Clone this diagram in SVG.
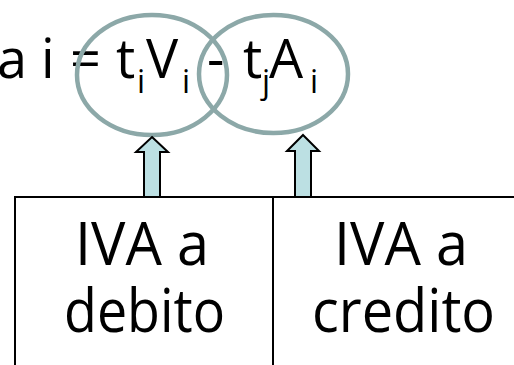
<svg xmlns="http://www.w3.org/2000/svg" width="514" height="365" viewBox="0 0 514 365">
  <style>
    .txt { font-family: "Open Sans", "Noto Sans", sans-serif; fill: #000; }
    .ring { fill: none; stroke: #8CA8A8; stroke-width: 4.5; }
    .up { fill: #BCE0E3; stroke: #000; stroke-width: 2; stroke-linejoin: miter; }
    .rule { stroke: #000; stroke-width: 2; fill: none; }
  </style>

  <!-- formula -->
  <g id="formula" class="txt">
    <text font-size="54" y="78">
      <tspan x="-3">a</tspan>
      <tspan x="41">i</tspan>
      <tspan x="70">=</tspan>
      <tspan x="116">t</tspan>
      <tspan x="146">V</tspan>
      <tspan x="207">-</tspan>
      <tspan x="243">t</tspan>
      <tspan x="269">A</tspan>
    </text>
    <text font-size="32" y="93">
      <tspan x="137">i</tspan>
      <tspan x="182">i</tspan>
      <tspan x="262">j</tspan>
      <tspan x="310">i</tspan>
    </text>
  </g>

  <!-- highlight rings -->
  <g id="ring-debito"><ellipse class="ring" cx="152" cy="75" rx="75" ry="60"/></g>
  <g id="ring-credito"><ellipse class="ring" cx="273.5" cy="74" rx="74.5" ry="59"/></g>

  <!-- connectors -->
  <g id="connectors">
    <path class="up" d="M152,137 L168,152 L160,152 L160,197 L144,197 L144,152 L136,152 Z"/>
    <path class="up" d="M303,135 L319,151 L311,151 L311,197 L295,197 L295,151 L287,151 Z"/>
  </g>

  <!-- table -->
  <g id="table">
    <path class="rule" d="M15,365 L15,197 L514,197 M273,197 L273,365"/>
  </g>

  <g id="cell-debito" class="txt" font-size="60">
    <text x="75" y="265" textLength="134" lengthAdjust="spacingAndGlyphs">IVA a</text>
    <text x="64" y="332" textLength="161" lengthAdjust="spacingAndGlyphs">debito</text>
  </g>
  <g id="cell-credito" class="txt" font-size="60">
    <text x="334" y="265" textLength="134" lengthAdjust="spacingAndGlyphs">IVA a</text>
    <text x="312" y="332" textLength="183" lengthAdjust="spacingAndGlyphs">credito</text>
  </g>
</svg>
